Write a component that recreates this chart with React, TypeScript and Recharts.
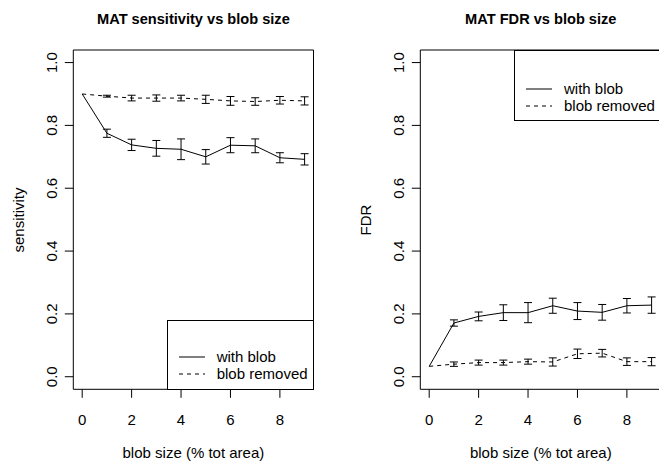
import React from 'react';
import { LineChart, Line, XAxis, YAxis, ErrorBar, ReferenceArea } from 'recharts';

const blobSizes = [0, 1, 2, 3, 4, 5, 6, 7, 8, 9];
const sensWithBlob = [0.9, 0.775, 0.738, 0.727, 0.724, 0.7, 0.737, 0.735, 0.697, 0.692];
const sensWithBlobErr = [null, 0.013, 0.018, 0.025, 0.033, 0.023, 0.024, 0.022, 0.016, 0.018];
const sensBlobRemoved = [0.9, 0.893, 0.887, 0.887, 0.887, 0.883, 0.878, 0.876, 0.88, 0.878];
const sensBlobRemovedErr = [null, 0.003, 0.009, 0.01, 0.009, 0.013, 0.014, 0.012, 0.012, 0.013];
const fdrWithBlob = [0.033, 0.171, 0.192, 0.204, 0.204, 0.226, 0.209, 0.205, 0.226, 0.228];
const fdrWithBlobErr = [null, 0.01, 0.014, 0.025, 0.032, 0.024, 0.027, 0.025, 0.023, 0.026];
const fdrBlobRemoved = [0.033, 0.04, 0.045, 0.045, 0.048, 0.047, 0.073, 0.075, 0.048, 0.048];
const fdrBlobRemovedErr = [null, 0.007, 0.008, 0.008, 0.008, 0.013, 0.015, 0.012, 0.012, 0.013];
const xTicks = [0, 2, 4, 6, 8];
const yTicks = [0, 0.2, 0.4, 0.6, 0.8, 1.0];
const seriesNames = ['with blob', 'blob removed'];

const FONT = '"Liberation Sans", Arial, Helvetica, sans-serif';
const FS = 15;
const X_DOMAIN = [-0.36, 9.36];
const Y_DOMAIN = [-0.04, 1.04];

const XTick = (props: any) => {
  const { x, payload } = props;
  return (
    <text x={x} y={419} textAnchor="middle" dominantBaseline="central" fontSize={FS} fontFamily={FONT} fill="#000">
      {payload.value}
    </text>
  );
};

const YTick = (props: any) => {
  const { y, payload } = props;
  const cx = 51.3;
  return (
    <text x={cx} y={y} transform={`rotate(-90, ${cx}, ${y})`} textAnchor="middle" dominantBaseline="central" fontSize={FS} fontFamily={FONT} fill="#000">
      {Number(payload.value).toFixed(1)}
    </text>
  );
};

type PanelProps = {
  left: number;
  title: string;
  yLabel: string;
  withVals: (number | null)[];
  withErr: (number | null)[];
  remVals: (number | null)[];
  remErr: (number | null)[];
  legendBox: { left: number; top: number; width: number; height: number; row1: number };
};

const Panel = ({ left, title, yLabel, withVals, withErr, remVals, remErr, legendBox }: PanelProps) => {
  const data = blobSizes.map((x, i) => ({
    x,
    w: withVals[i],
    we: withErr[i],
    r: remVals[i],
    re: remErr[i],
  }));
  const plotL = 73.3;
  const plotR = 313.5;
  return (
    <div style={{ position: 'absolute', left, top: 0, width: 330, height: 465 }}>
      <LineChart
        width={330}
        height={465}
        data={data}
        margin={{ top: 50, right: 330 - plotR, left: plotL - 60, bottom: 465 - 389.3 - 45 }}
      >
        <XAxis
          dataKey="x"
          type="number"
          domain={X_DOMAIN}
          ticks={xTicks}
          allowDataOverflow
          axisLine={false}
          tickLine={{ stroke: '#000' }}
          tickSize={8.5}
          height={45}
          tick={<XTick />}
          interval={0}
        />
        <YAxis
          type="number"
          domain={Y_DOMAIN}
          ticks={yTicks}
          allowDataOverflow
          axisLine={false}
          tickLine={{ stroke: '#000' }}
          tickSize={8.5}
          width={60}
          tick={<YTick />}
          interval={0}
        />
        <ReferenceArea x1={X_DOMAIN[0]} x2={X_DOMAIN[1]} y1={Y_DOMAIN[0]} y2={Y_DOMAIN[1]} fill="none" stroke="#000" strokeWidth={1} fillOpacity={0} ifOverflow="visible" />
        <Line type="linear" dataKey="w" stroke="#000" strokeWidth={1} dot={false} isAnimationActive={false} name={seriesNames[0]}>
          <ErrorBar dataKey="we" direction="y" width={4} stroke="#000" strokeWidth={1} />
        </Line>
        <Line type="linear" dataKey="r" stroke="#000" strokeWidth={1} strokeDasharray="4 4" dot={false} isAnimationActive={false} name={seriesNames[1]}>
          <ErrorBar dataKey="re" direction="y" width={4} stroke="#000" strokeWidth={1} />
        </Line>
      </LineChart>
      <div
        style={{
          position: 'absolute',
          left: plotL - 40,
          width: plotR - plotL + 80,
          top: 9,
          textAlign: 'center',
          fontFamily: FONT,
          fontWeight: 'bold',
          fontSize: 14.6,
          lineHeight: '20px',
          whiteSpace: 'nowrap',
        }}
      >
        {title}
      </div>
      <div
        style={{
          position: 'absolute',
          left: plotL,
          width: plotR - plotL,
          top: 443,
          textAlign: 'center',
          fontFamily: FONT,
          fontSize: FS,
          lineHeight: '20px',
          whiteSpace: 'nowrap',
        }}
      >
        blob size (% tot area)
      </div>
      <div
        style={{
          position: 'absolute',
          left: 19 - 100,
          top: 219.7 - 10,
          width: 200,
          height: 20,
          lineHeight: '20px',
          textAlign: 'center',
          transform: 'rotate(-90deg)',
          fontFamily: FONT,
          fontSize: FS,
          whiteSpace: 'nowrap',
        }}
      >
        {yLabel}
      </div>
      <div
        style={{
          position: 'absolute',
          left: legendBox.left,
          top: legendBox.top,
          width: legendBox.width,
          height: legendBox.height,
          border: '1px solid #000',
          boxSizing: 'border-box',
          background: '#fff',
        }}
      />
      {seriesNames.map((name, i) => (
        <React.Fragment key={name}>
          <svg
            style={{ position: 'absolute', left: legendBox.left + 12, top: legendBox.row1 + i * 16.5 - 2 }}
            width={27}
            height={4}
          >
            <line x1={0} y1={2} x2={26} y2={2} stroke="#000" strokeWidth={1} strokeDasharray={i === 1 ? '4 4' : undefined} />
          </svg>
          <div
            style={{
              position: 'absolute',
              left: legendBox.left + 50,
              top: legendBox.row1 + i * 16.5 - 10,
              lineHeight: '20px',
              fontFamily: FONT,
              fontSize: FS,
              whiteSpace: 'nowrap',
            }}
          >
            {name}
          </div>
        </React.Fragment>
      ))}
    </div>
  );
};

export default function App() {
  return (
    <div
      style={{
        position: 'absolute',
        left: 0,
        top: 0,
        width: 659,
        height: 465,
        overflow: 'hidden',
        background: '#fff',
      }}
    >
      <Panel
        left={0}
        title="MAT sensitivity vs blob size"
        yLabel="sensitivity"
        withVals={sensWithBlob}
        withErr={sensWithBlobErr}
        remVals={sensBlobRemoved}
        remErr={sensBlobRemovedErr}
        legendBox={{ left: 166.7, top: 320, width: 313.5 - 166.7 + 0.5, height: 389.8 - 320, row1: 357 }}
      />
      <Panel
        left={347.4}
        title="MAT FDR vs blob size"
        yLabel="FDR"
        withVals={fdrWithBlob}
        withErr={fdrWithBlobErr}
        remVals={fdrBlobRemoved}
        remErr={fdrBlobRemovedErr}
        legendBox={{ left: 514 - 347.4, top: 49.5, width: 200, height: 120.5 - 49.5, row1: 89.3 }}
      />
    </div>
  );
}
